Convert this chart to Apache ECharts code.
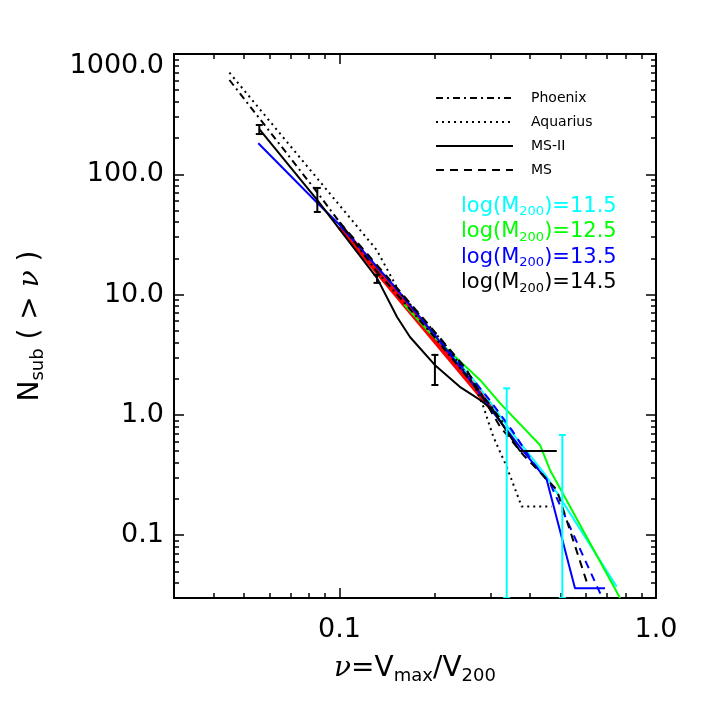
<!DOCTYPE html>
<html>
<head>
<meta charset="utf-8">
<script src="https://cdn.jsdelivr.net/npm/echarts@6/dist/echarts.min.js"></script>
<style>
html, body {margin: 0; padding: 0; background: #fff;}
#chart {width: 709px; height: 709px;}
</style>
</head>
<body>
<div id="chart"></div>
<script>
// cumulative subhalo counts N(>nu)
let phoenix = [[0.0449, 608], [0.0847, 71.7], [0.13, 16], [0.2, 4.4], [0.3, 1.2], [0.33, 0.85]];
let aquarius = [[0.0449, 700], [0.131, 23.5], [0.1553, 10.3], [0.1886, 5.8], [0.2182, 3.69], [0.2647, 1.84],
    [0.2848, 1.17], [0.306, 0.66], [0.3375, 0.37], [0.3764, 0.1726], [0.468, 0.1726]];
let msii145 = [[0.0558, 237], [0.0851, 61], [0.1314, 13.7], [0.152, 6.5], [0.167, 4.44], [0.2, 2.6],
    [0.24, 1.71], [0.278, 1.33], [0.3055, 1.1], [0.33, 0.8], [0.3717, 0.5], [0.4858, 0.5]];
let ms145 = [[0.1, 40], [0.15, 11.8], [0.2, 4.9], [0.25, 2.45], [0.3214, 0.8], [0.381, 0.464], [0.4858, 0.238], [0.611, 0.0373]];
let msii135 = [[0.0554, 181], [0.085, 58], [0.1, 38], [0.15, 11.5], [0.2, 4.6], [0.25, 2.2], [0.306, 1.05],
    [0.372, 0.54], [0.4516, 0.288], [0.5547, 0.0362], [0.69, 0.0362]];
let ms135 = [[0.1, 39], [0.15, 11.4], [0.2, 4.7], [0.25, 2.35], [0.3, 1.3], [0.35, 0.75], [0.41, 0.396], [0.4624, 0.27], [0.673, 0.031]];
let m125 = [[0.16, 8.3], [0.193, 4.8], [0.278, 1.95], [0.3214, 1.25], [0.43, 0.562], [0.4624, 0.348], [0.77, 0.03]];
let m115 = [[0.22, 3.4], [0.27, 1.85], [0.3457, 0.748], [0.4516, 0.306], [0.751, 0.0373]];
let fitLine = [[0.1004, 36.7], [0.306, 1.1]];

// error bars: [nu, low, high]
let errBlack = [[0.0558, 216, 257], [0.0851, 48.6, 77], [0.1314, 12.5, 14.6], [0.2002, 1.77, 3.15]];
let errCyan = [[0.3375, 0.03, 1.66], [0.5058, 0.03, 0.68]];

// ticks
let xMajor = [0.1, 1.0];
let xMinor = [0.04, 0.05, 0.06, 0.07, 0.08, 0.09, 0.2, 0.3, 0.4, 0.5, 0.6, 0.7, 0.8, 0.9];
let yMajor = [0.1, 1, 10, 100, 1000];
let yMinor = [0.04, 0.05, 0.06, 0.07, 0.08, 0.09, 0.2, 0.3, 0.4, 0.5, 0.6, 0.7, 0.8, 0.9,
    2, 3, 4, 5, 6, 7, 8, 9, 20, 30, 40, 50, 60, 70, 80, 90, 200, 300, 400, 500, 600, 700, 800, 900];

let massLabels = ['11.5', '12.5', '13.5', '14.5'];
let massColors = ['#00ffff', '#00ff00', '#0000ff', '#000000'];

let FONT = 'DejaVu Sans';
let myChart = echarts.init(document.getElementById('chart'));

function errorBar(params, api) {
    let x = api.value(0);
    let lo = api.coord([x, api.value(1)]);
    let hi = api.coord([x, api.value(2)]);
    let w = 3.5;
    let c = api.visual('color');
    let mk = function (x1, y1, x2, y2) {
        return {type: 'line', shape: {x1: x1, y1: y1, x2: x2, y2: y2}, style: {stroke: c, lineWidth: 2}};
    };
    return {
        type: 'group',
        children: [
            mk(lo[0], lo[1], hi[0], hi[1]),
            mk(lo[0] - w, lo[1], lo[0] + w, lo[1]),
            mk(hi[0] - w, hi[1], hi[0] + w, hi[1])
        ]
    };
}

function tickAxis(pos, major, values, len) {
    return {
        type: 'log', position: pos, gridIndex: 0,
        axisLine: {show: major, onZero: false, lineStyle: {color: '#000', width: 2}},
        axisTick: {show: true, inside: true, length: len, customValues: values, lineStyle: {color: '#000', width: 1.5}},
        axisLabel: {show: false},
        splitLine: {show: false},
        minorTick: {show: false}
    };
}

let labelRich = {
    t: {fontFamily: FONT, fontSize: 27, color: '#000'},
    top: {fontFamily: FONT, fontSize: 27, color: '#000', padding: [24, 0, 0, 0]}
};
let titleRich = {
    i: {fontFamily: 'DejaVu Serif', fontStyle: 'italic', fontSize: 28, color: '#000'},
    t: {fontFamily: FONT, fontSize: 28, color: '#000'},
    s: {fontFamily: FONT, fontSize: 18, color: '#000', padding: [15, 0, 0, 0]}
};

let xAxes = [
    tickAxis('bottom', true, xMajor, 10),
    tickAxis('bottom', false, xMinor, 5),
    tickAxis('top', true, xMajor, 10),
    tickAxis('top', false, xMinor, 5)
];
xAxes.forEach(function (a) { a.min = 0.03; a.max = 1.0; });
xAxes[0].axisLabel = {
    show: true, customValues: xMajor, margin: 18,
    formatter: function (v) { return '{t|' + v.toFixed(1) + '}'; },
    rich: labelRich
};
xAxes[0].name = '{i|ν}{t|=V}{s|max}{t|/V}{s|200}';
xAxes[0].nameLocation = 'middle';
xAxes[0].nameGap = 54;
xAxes[0].nameTextStyle = {rich: titleRich};

let yAxes = [
    tickAxis('left', true, yMajor, 10),
    tickAxis('left', false, yMinor, 5),
    tickAxis('right', true, yMajor, 10),
    tickAxis('right', false, yMinor, 5)
];
yAxes.forEach(function (a) { a.min = 0.03; a.max = 1000; });
yAxes[0].axisLabel = {
    show: true, customValues: yMajor, margin: 10,
    formatter: function (v) {
        let s = v.toFixed(1);
        return v >= 1000 ? '{top|' + s + '}' : '{t|' + s + '}';
    },
    rich: labelRich
};
yAxes[0].name = '{t|N}{s|sub}{t| ( > }{i|ν}{t| )}';
yAxes[0].nameLocation = 'middle';
yAxes[0].nameRotate = 90;
yAxes[0].nameGap = 127;
yAxes[0].nameTextStyle = {rich: titleRich};

function line(name, data, color, width, type, z) {
    return {
        name: name, type: 'line', data: data, symbol: 'none', clip: true,
        lineStyle: {color: color, width: width, type: type}, itemStyle: {color: color},
        animation: false, z: z
    };
}

let massGraphics = massLabels.map(function (m, i) {
    return {
        type: 'text', left: 461, top: 196 + i * 25.5,
        style: {
            text: '{a|log(M}{s|200}{a|)=' + m + '}',
            rich: {
                a: {fontFamily: FONT, fontSize: 21, fill: massColors[i]},
                s: {fontFamily: FONT, fontSize: 13, fill: massColors[i], padding: [11, 0, 0, 0]}
            }
        }
    };
});

option = {
    backgroundColor: '#fff',
    animation: false,
    grid: {left: 174, top: 54, width: 482, height: 544, containLabel: false},
    xAxis: xAxes,
    yAxis: yAxes,
    legend: {
        data: ['Phoenix', 'Aquarius', 'MS-II', 'MS'],
        orient: 'vertical', left: 430, top: 86,
        itemWidth: 77, itemHeight: 14, itemGap: 10,
        itemStyle: {opacity: 0},
        textStyle: {fontFamily: FONT, fontSize: 14, color: '#000', padding: [0, 0, 0, 13]},
        selectedMode: false
    },
    graphic: massGraphics,
    series: [
        line('fit', fitLine, '#ff0000', 6, 'solid', 2),
        line('11.5', m115, '#00ffff', 2, 'solid', 3),
        line('12.5', m125, '#00ff00', 2, 'solid', 3),
        line('13.5 MS-II', msii135, '#0000ff', 2, 'solid', 4),
        line('13.5 MS', ms135, '#0000ff', 2, [8, 6], 4),
        line('MS', ms145, '#000000', 2, [8, 6], 5),
        line('MS-II', msii145, '#000000', 2, 'solid', 5),
        line('Phoenix', phoenix, '#000000', 2, [7, 4, 2, 4], 5),
        line('Aquarius', aquarius, '#000000', 2, [2, 4], 5),
        {
            name: 'err MS-II', type: 'custom', data: errBlack, renderItem: errorBar, clip: true,
            itemStyle: {color: '#000'}, encode: {x: 0, y: [1, 2]}, z: 6
        },
        {
            name: 'err 11.5', type: 'custom', data: errCyan, renderItem: errorBar, clip: true,
            itemStyle: {color: '#00ffff'}, encode: {x: 0, y: [1, 2]}, z: 6
        }
    ]
};

if (option && typeof option === "object") {
    myChart.setOption(option, true);
}
</script>
</body>
</html>
